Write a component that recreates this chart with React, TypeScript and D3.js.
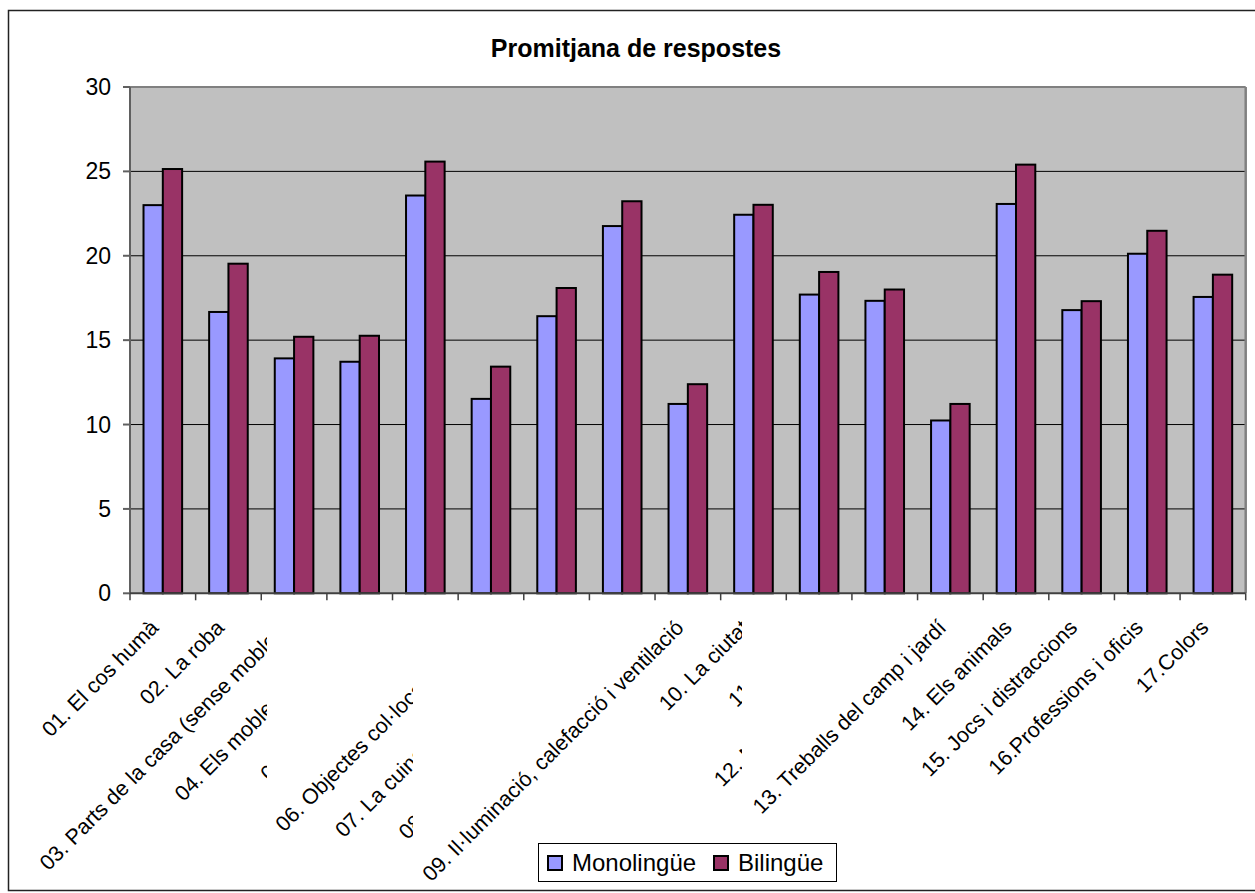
import React from "react";
import * as d3 from "d3";

const categories = [
  "01. El cos humà",
  "02. La roba",
  "03. Parts de la casa (sense mobles)",
  "04. Els mobles de la casa",
  "05. Aliments i begudes",
  "06. Objectes col·locats a taula",
  "07. La cuina i els seus utensilis",
  "08. L'escola: mobles i materials",
  "09. Il·luminació, calefacció i ventilació",
  "10. La ciutat",
  "11. El camp",
  "12. Mitjans de transport",
  "13. Treballs del camp i jardí",
  "14. Els animals",
  "15. Jocs i distraccions",
  "16.Professions i oficis",
  "17.Colors",
];

const monolingue = [23.0, 16.67, 13.92, 13.72, 23.57, 11.52, 16.42, 21.76, 11.22, 22.43, 17.7, 17.33, 10.24, 23.07, 16.78, 20.12, 17.56];
const bilingue = [25.14, 19.53, 15.2, 15.26, 25.58, 13.43, 18.09, 23.23, 12.39, 23.02, 19.04, 18.0, 11.22, 25.4, 17.31, 21.48, 18.88];

const seriesNames = ["Monolingüe", "Bilingüe"];
const seriesColors = ["#9999FF", "#993366"];
const yTicks = [0, 5, 10, 15, 20, 25, 30];

// overlapping label clipping (as rendered in the original)
const labelClips: { id: string; maxX: number; idx: number[] }[] = [
  { id: "clipA", maxX: 267, idx: [2, 3, 4] },
  { id: "clipB", maxX: 413, idx: [5, 6, 7] },
  { id: "clipC", maxX: 742, idx: [9, 10, 11] },
];

const W = 1255;
const H = 893;
const plot = { left: 130, right: 1245.7, top: 87, bottom: 593.3 };
const FONT = "Arial, 'Liberation Sans', sans-serif";

export default function App() {
  const x0 = d3.scaleBand<string>().domain(categories).range([plot.left, plot.right]).paddingInner(0).paddingOuter(0);
  const x1 = d3.scaleBand<string>().domain(seriesNames).range([0, x0.bandwidth()]).paddingInner(0).paddingOuter(0.7);
  const y = d3.scaleLinear().domain([0, 30]).range([plot.bottom, plot.top]);
  const series = [monolingue, bilingue];

  const clipFor = (i: number) => {
    const c = labelClips.find((c) => c.idx.includes(i));
    return c ? `url(#${c.id})` : undefined;
  };

  const boundaries = d3.range(categories.length + 1).map((i) =>
    i < categories.length ? (x0(categories[i]) as number) : plot.right
  );

  return (
    <svg width={W} height={H} style={{ position: "absolute", left: 0, top: 0 }} fontFamily={FONT}>
      <defs>
        {labelClips.map((c) => (
          <clipPath id={c.id} key={c.id}>
            <rect x={0} y={0} width={c.maxX} height={H} />
          </clipPath>
        ))}
      </defs>
      <rect x={0} y={0} width={W} height={H} fill="#fff" />
      <rect x={8.5} y={10.5} width={1250} height={880} fill="#fff" stroke="#222" strokeWidth={1.5} />

      <text x={636} y={57} textAnchor="middle" fontWeight="bold" fontSize={25}>
        Promitjana de respostes
      </text>

      {/* plot background */}
      <rect x={plot.left} y={plot.top} width={plot.right - plot.left} height={plot.bottom - plot.top} fill="#C0C0C0" />
      {yTicks.filter((t) => t > 0 && t < 30).map((t) => (
        <line key={t} x1={plot.left} x2={plot.right} y1={y(t)} y2={y(t)} stroke="#000" strokeWidth={1} />
      ))}
      {/* plot border */}
      <line x1={plot.left} x2={plot.right} y1={plot.top} y2={plot.top} stroke="#808080" strokeWidth={2} />
      <line x1={plot.right} x2={plot.right} y1={plot.top} y2={plot.bottom} stroke="#808080" strokeWidth={2.5} />

      {/* bars */}
      {categories.map((c, i) =>
        series.map((s, j) => (
          <rect
            key={`${i}-${j}`}
            x={(x0(c) as number) + (x1(seriesNames[j]) as number)}
            y={y(s[i])}
            width={x1.bandwidth()}
            height={y(0) - y(s[i])}
            fill={seriesColors[j]}
            stroke="#000"
            strokeWidth={2}
          />
        ))
      )}

      {/* axes */}
      <line x1={plot.left} x2={plot.left} y1={plot.top} y2={plot.bottom} stroke="#606060" strokeWidth={2} />
      <line x1={plot.left} x2={plot.right} y1={plot.bottom} y2={plot.bottom} stroke="#404040" strokeWidth={2} />
      {yTicks.map((t) => (
        <g key={t}>
          <line x1={plot.left - 7} x2={plot.left} y1={y(t)} y2={y(t)} stroke="#606060" strokeWidth={2} />
          <text x={111} y={y(t)} dy="0.35em" textAnchor="end" fontSize={23}>
            {t}
          </text>
        </g>
      ))}
      {boundaries.map((bx, i) => (
        <line key={i} x1={bx} x2={bx} y1={plot.bottom} y2={plot.bottom + 7} stroke="#404040" strokeWidth={1.5} />
      ))}

      {/* category labels */}
      {categories.map((c, i) => {
        const cx = (x0(c) as number) + x0.bandwidth() / 2;
        return (
          <g key={c} clipPath={clipFor(i)}>
            <text
              transform={`translate(${cx - 3},${629}) rotate(-45)`}
              textAnchor="end"
              fontSize={21.5}
            >
              {c}
            </text>
          </g>
        );
      })}

      {/* legend */}
      <rect x={538.5} y={843.5} width={298} height={38} fill="#fff" stroke="#000" strokeWidth={1} />
      {seriesNames.map((n, j) => {
        const sx = j === 0 ? 547 : 713;
        return (
          <g key={n}>
            <rect x={sx + 1} y={856} width={14} height={14} fill={seriesColors[j]} stroke="#000" strokeWidth={2} />
            <text x={sx + 25} y={871} fontSize={24}>
              {n}
            </text>
          </g>
        );
      })}
    </svg>
  );
}
